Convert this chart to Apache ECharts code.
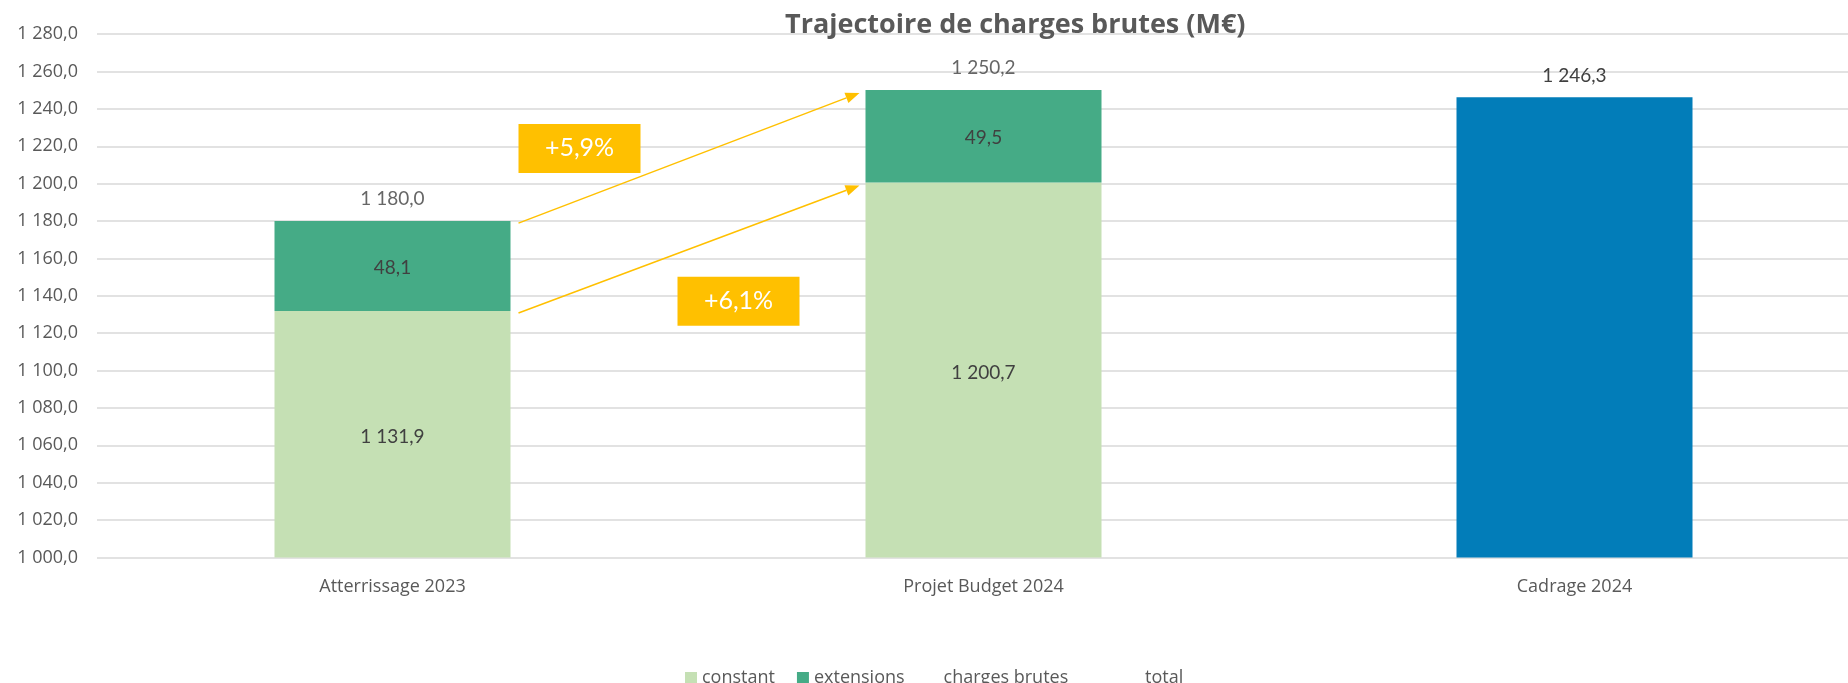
<!DOCTYPE html>
<html>
<head>
<meta charset="utf-8">
<script src="https://cdn.jsdelivr.net/npm/echarts@6/dist/echarts.min.js"></script>
<style>
html,body{margin:0;padding:0;background:#fff;}
#chart{width:1848px;height:683px;}
</style>
</head>
<body>
<div id="chart"></div>
<script>
// ---- data ----
const categories = ['Atterrissage 2023', 'Projet Budget 2024', 'Cadrage 2024'];
const constant = [1131.9, 1200.7, null];
const extensions = [48.1, 49.5, null];
const chargesBrutes = [null, null, 1246.3];
const total = [1180.0, 1250.2, null];
const yMin = 1000, yMax = 1280, yInterval = 20;
const growthLabels = ['+5,9%', '+6,1%'];

// ---- helpers ----
function fmt(v) {
  const s = Number(v).toFixed(1).split('.');
  const intPart = s[0].replace(/\B(?=(\d{3})+(?!\d))/g, ' ');
  return intPart + ',' + s[1];
}
const base = yMin;
const rel = arr => arr.map(v => v == null ? null : v - base);

const GREY = '#595959';
const LABEL = '#404040';
const AXISFONT = 'Open Sans';
const NUMFONT = 'Lato';
const BARW = 236;

const chart = echarts.init(document.getElementById('chart'), null, {renderer: 'canvas'});

const option = {
  animation: false,
  backgroundColor: '#ffffff',
  title: {
    text: 'Trajectoire de charges brutes (M€)',
    left: 780, top: 7,
    textStyle: {fontFamily: AXISFONT, fontWeight: 'bold', fontSize: 27, color: GREY}
  },
  grid: {left: 97, width: 1773, top: 34.2, bottom: 125.5, containLabel: false, outerBoundsMode: 'none'},
  legend: [{
    data: [
      {name: 'constant'},
      {name: 'extensions'},
      {name: 'charges brutes', itemStyle: {color: 'rgba(0,0,0,0)'}}
    ],
    left: 680, top: 664,
    itemWidth: 12, itemHeight: 12, itemGap: 22,
    icon: 'rect',
    selectedMode: false,
    textStyle: {fontFamily: AXISFONT, fontSize: 18, color: GREY}
  }, {
    data: [{name: 'total', itemStyle: {color: 'rgba(0,0,0,0)', borderWidth: 0}}],
    left: 1085, top: 664,
    itemWidth: 50, itemHeight: 12,
    icon: 'rect',
    selectedMode: false,
    textStyle: {fontFamily: AXISFONT, fontSize: 18, color: GREY}
  }],
  xAxis: {
    type: 'category',
    data: categories,
    axisLine: {show: false},
    axisTick: {show: false},
    axisLabel: {fontFamily: AXISFONT, fontSize: 18, color: GREY, margin: 20}
  },
  yAxis: {
    type: 'value',
    min: yMin - base, max: yMax - base, interval: yInterval,
    axisLine: {show: false},
    axisTick: {show: false},
    splitLine: {lineStyle: {color: '#D9D9D9', width: 1.5}},
    axisLabel: {
      fontFamily: AXISFONT, fontSize: 18, color: GREY, margin: 19,
      formatter: v => fmt(v + base)
    }
  },
  series: [
    {
      name: 'constant', type: 'bar', stack: 'a', barWidth: BARW,
      data: rel(constant),
      itemStyle: {color: '#C5E0B4'},
      label: {show: true, position: 'inside', offset: [0, 3], fontFamily: NUMFONT, fontSize: 19, color: LABEL,
        formatter: p => fmt(constant[p.dataIndex])}
    },
    {
      name: 'extensions', type: 'bar', stack: 'a', barWidth: BARW,
      data: extensions,
      itemStyle: {color: '#45AB86'},
      label: {show: true, position: 'inside', offset: [0, 2], fontFamily: NUMFONT, fontSize: 19, color: LABEL,
        formatter: p => fmt(extensions[p.dataIndex])}
    },
    {
      name: 'charges brutes', type: 'bar', barWidth: BARW, barGap: '-100%',
      data: rel(chargesBrutes),
      itemStyle: {color: '#027DB9'},
      label: {show: true, position: 'top', distance: 12, fontFamily: NUMFONT, fontSize: 19, color: LABEL,
        formatter: p => fmt(chargesBrutes[p.dataIndex])}
    },
    {
      name: 'total', type: 'scatter', symbolSize: 1,
      data: rel(total),
      itemStyle: {color: 'rgba(0,0,0,0)'},
      label: {show: true, position: 'top', distance: 12, fontFamily: NUMFONT, fontSize: 19, color: LABEL,
        formatter: p => fmt(total[p.dataIndex])}
    }
  ]
};
chart.setOption(option);

// ---- growth annotations (arrows between segment boundaries) ----
const ORANGE = '#FFC000';
function px(ci, v) { return chart.convertToPixel({gridIndex: 0}, [ci, v - base]); }
const halfW = BARW / 2;
const graphics = [];
function arrow(fromV, toV) {
  const a = px(0, fromV), b = px(1, toV);
  const x1 = a[0] + halfW + 8, y1 = a[1] + 2;
  const x2 = b[0] - halfW - 6, y2 = b[1] + 3;
  const ang = Math.atan2(y2 - y1, x2 - x1);
  const L = 14, W = 5.5;
  const bx = x2 - L * Math.cos(ang), by = y2 - L * Math.sin(ang);
  const nx = -Math.sin(ang), ny = Math.cos(ang);
  graphics.push({type: 'line', silent: true,
    shape: {x1: x1, y1: y1, x2: bx, y2: by},
    style: {stroke: ORANGE, lineWidth: 1.5}});
  graphics.push({type: 'polygon', silent: true,
    shape: {points: [[x2, y2], [bx + nx * W, by + ny * W], [bx - nx * W, by - ny * W]]},
    style: {fill: ORANGE}});
}
arrow(total[0], total[1]);
arrow(constant[0], constant[1]);

function box(text, x, yTopValue) {
  const y = px(0, yTopValue)[1];
  graphics.push({type: 'rect', silent: true,
    shape: {x: x, y: y, width: 122, height: 49},
    style: {fill: ORANGE}});
  graphics.push({type: 'text', silent: true,
    x: x + 61, y: y + 24.5,
    style: {text: text, fill: '#ffffff', font: '25px Lato', align: 'center', verticalAlign: 'middle'}});
}
const c0 = px(0, yMin)[0];
box(growthLabels[0], c0 + halfW + 8, 1232);
box(growthLabels[1], c0 + halfW + 167, 1150.2);

chart.setOption({graphic: graphics});
</script>
</body>
</html>
